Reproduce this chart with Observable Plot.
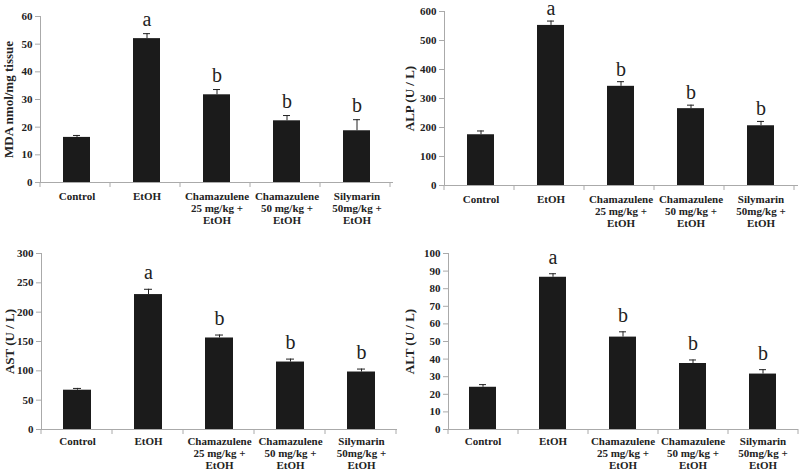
<!DOCTYPE html>
<html>
<head>
<meta charset="utf-8">
<script src="https://cdn.jsdelivr.net/npm/d3@7"></script>
<script src="https://cdn.jsdelivr.net/npm/@observablehq/plot@0.6"></script>
<style>
  body { margin: 0; background: #fff; }
  #grid { display: grid; grid-template-columns: 400px 400px; grid-template-rows: 236px 236px; width: 800px; height: 472px; }
  #grid > div { width: 400px; height: 236px; overflow: hidden; }
  svg text { font-family: "Liberation Serif", "Times New Roman", Times, serif; }
</style>
</head>
<body>
<div id="grid"><div id="p1"></div><div id="p2"></div><div id="p3"></div><div id="p4"></div></div>
<script>
// ---- data ----
const groups = ["Control", "EtOH", "Cham25", "Cham50", "Silymarin"];
const groupLabels = ["Control", "EtOH", "Chamazulene\n25 mg/kg +\nEtOH", "Chamazulene\n50 mg/kg +\nEtOH", "Silymarin\n50mg/kg +\nEtOH"];
const letters = ["", "a", "b", "b", "b"];

const mdaMean = [16.3, 52.0, 31.7, 22.3, 18.7];
const mdaErr  = [0.7, 1.8, 1.9, 1.9, 4.0];
const mdaTicks = [0, 10, 20, 30, 40, 50, 60];

const alpMean = [175, 552, 342, 265, 206];
const alpErr  = [13, 15, 16, 12, 15];
const alpTicks = [0, 100, 200, 300, 400, 500, 600];

const astMean = [67, 230, 156, 115, 98];
const astErr  = [3, 9, 5, 5, 5];
const astTicks = [0, 50, 100, 150, 200, 250, 300];

const altMean = [24, 86.5, 52.5, 37.5, 31.5];
const altErr  = [1.5, 2.0, 3.0, 2.0, 2.5];
const altTicks = [0, 10, 20, 30, 40, 50, 60, 70, 80, 90, 100];

const FONT = "Liberation Serif";

function panel(el, {mean, err, ticks, label, margins, labelX, gap, pad}) {
  const data = groups.map((g, i) => ({g, v: mean[i], e: err[i], t: letters[i]}));
  const labelOf = new Map(groups.map((g, i) => [g, groupLabels[i]]));
  const plot = Plot.plot({
    width: 400,
    height: 236,
    ...margins,
    style: {fontFamily: FONT, fontSize: "11px", fontWeight: "bold", color: "#222", background: "#fff"},
    x: {domain: groups, paddingInner: 0.61, paddingOuter: 0.305, axis: null},
    y: {domain: [ticks[0], ticks[ticks.length - 1]], axis: null},
    marks: [
      Plot.ruleY([0], {stroke: "#aaa"}),
      Plot.frame({anchor: "left", stroke: "#aaa"}),
      Plot.barY(data, {x: "g", y: "v", fill: "#1b1b1b"}),
      Plot.ruleX(data, {x: "g", y1: "v", y2: d => d.v + d.e, stroke: "#222", strokeWidth: 1}),
      Plot.tickY(data, {x: "g", y: d => d.v + d.e, insetLeft: 10, insetRight: 10, stroke: "#222", strokeWidth: 1}),
      Plot.text(data.filter(d => d.t), {x: "g", y: d => d.v + d.e, text: "t", dy: -gap, lineAnchor: "bottom",
        fontSize: 20, fontWeight: "normal", fontFamily: FONT, fill: "#222"}),
      Plot.axisY({ticks, tickSize: 5, tickPadding: 3, stroke: "#aaa", fill: "#222", label: null, fontSize: 11}),
      Plot.text([label], {frameAnchor: "left", dx: -labelX, rotate: -90, textAnchor: "middle", fontSize: 13,
        fontWeight: "bold", fontFamily: FONT, fill: "#222"}),
      Plot.axisX({tickSize: 0, tickPadding: pad, tickFormat: g => labelOf.get(g), lineHeight: 1.09, fill: "#222", label: null})
    ]
  });
  // category boundary ticks on the x axis
  const xs = plot.scale("x");
  const ys = plot.scale("y");
  const y0 = ys.apply(0);
  const r0 = Math.min(...xs.range);
  const g = d3.select(plot).append("g").attr("stroke", "#aaa");
  for (let i = 0; i <= groups.length; i++) {
    const x = r0 + i * xs.step;
    g.append("line").attr("x1", x).attr("x2", x).attr("y1", y0).attr("y2", y0 + 5);
  }
  document.getElementById(el).append(plot);
}

panel("p1", {mean: mdaMean, err: mdaErr, ticks: mdaTicks, label: "MDA nmol/mg tissue",
  margins: {marginLeft: 40, marginRight: 7, marginTop: 16, marginBottom: 54}, labelX: 32, gap: 8, pad: 9});
panel("p2", {mean: alpMean, err: alpErr, ticks: alpTicks, label: "ALP (U / L)",
  margins: {marginLeft: 44, marginRight: 2, marginTop: 11, marginBottom: 51}, labelX: 35, gap: 6, pad: 9});
panel("p3", {mean: astMean, err: astErr, ticks: astTicks, label: "AST (U / L)",
  margins: {marginLeft: 41, marginRight: 3, marginTop: 17, marginBottom: 43}, labelX: 32, gap: 10, pad: 7});
panel("p4", {mean: altMean, err: altErr, ticks: altTicks, label: "ALT (U / L)",
  margins: {marginLeft: 48, marginRight: 2, marginTop: 17, marginBottom: 43}, labelX: 39, gap: 10, pad: 7});
</script>
</body>
</html>
